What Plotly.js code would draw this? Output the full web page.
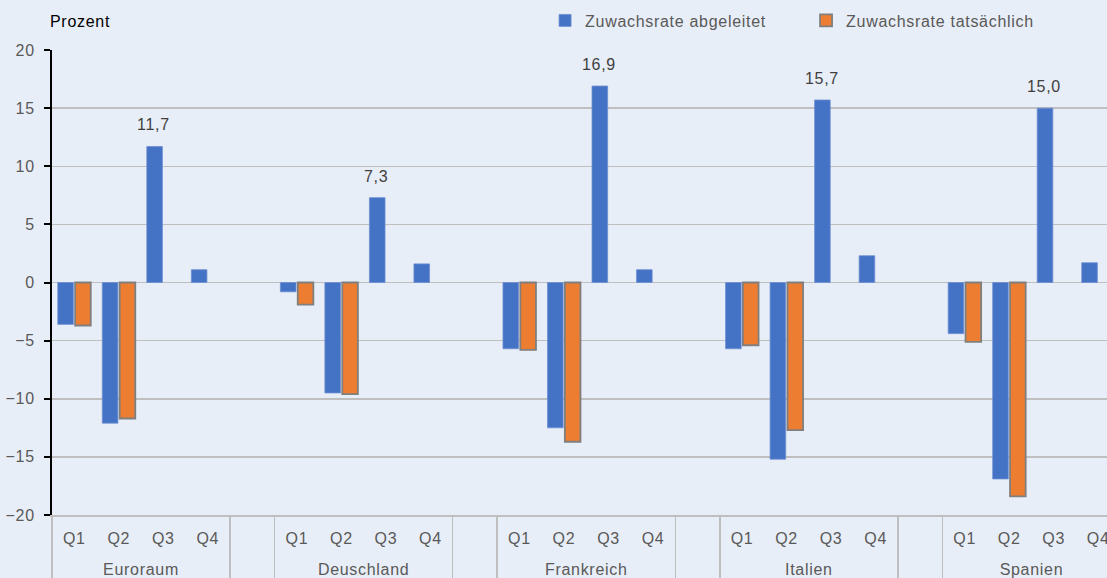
<!DOCTYPE html>
<html>
<head>
<meta charset="utf-8">
<script src="https://cdn.plot.ly/plotly-3.0.1.min.js"></script>
<style>
html, body { margin:0; padding:0; overflow:hidden; background:#E8EEF7; width:1107px; height:578px; }
#chart { width:1165px; height:578px; }
svg text { letter-spacing: 0.7px; }
</style>
</head>
<body>
<div id="chart"></div>
<script>
// Data
const countries = ["Euroraum", "Deuschland", "Frankreich", "Italien", "Spanien"];
const quarters = ["Q1", "Q2", "Q3", "Q4"];
const abgeleitet = {
  "Euroraum":   [-3.6, -12.1, 11.7, 1.1],
  "Deuschland": [-0.8, -9.5, 7.3, 1.6],
  "Frankreich": [-5.7, -12.5, 16.9, 1.1],
  "Italien":    [-5.7, -15.2, 15.7, 2.3],
  "Spanien":    [-4.4, -16.9, 15.0, 1.7]
};
const tatsaechlich = {
  "Euroraum":   [-3.7, -11.7, null, null],
  "Deuschland": [-1.9, -9.6, null, null],
  "Frankreich": [-5.8, -13.7, null, null],
  "Italien":    [-5.4, -12.7, null, null],
  "Spanien":    [-5.1, -18.4, null, null]
};
const labelledQuarter = "Q3";
const seriesNames = ["Zuwachsrate abgeleitet", "Zuwachsrate tatsächlich"];

// Build multicategory x with a blank separator slot after each country
const outer = [], inner = [], yA = [], yT = [];
countries.forEach((c, ci) => {
  quarters.forEach((q, qi) => {
    outer.push(c); inner.push(q + "<br>\u00a0");
    yA.push(abgeleitet[c][qi]); yT.push(tatsaechlich[c][qi]);
  });
  outer.push("\u00a0".repeat(ci + 1)); inner.push("\u00a0");
  yA.push(null); yT.push(null);
});

const FONT = 'Liberation Sans, Arial, sans-serif';
const annotations = [];
outer.forEach((o, i) => {
  if (inner[i].startsWith(labelledQuarter) && yA[i] != null) {
    annotations.push({
      x: i, y: yA[i], xref: 'x', yref: 'y',
      text: yA[i].toFixed(1).replace('.', ','),
      showarrow: false, yanchor: 'bottom', yshift: 11, xshift: -9.5,
      font: {family: FONT, size: 16, color: '#404040'}
    });
  }
});
annotations.push({
  xref: 'paper', yref: 'paper', x: -0.004, y: 1.062, xanchor: 'left', yanchor: 'middle',
  text: 'Prozent', showarrow: false,
  font: {family: FONT, size: 16, color: '#000000'}
});

const traces = [
  {
    type: 'bar', name: seriesNames[0], x: [outer, inner], y: yA,
    marker: {color: '#4472C4', line: {color: '#6E8FD3', width: 0.8}},
    hoverinfo: 'y'
  },
  {
    type: 'bar', name: seriesNames[1], x: [outer, inner], y: yT,
    marker: {color: '#ED7D31', line: {color: '#7F7F7F', width: 1.8}},
    hoverinfo: 'y'
  }
];

const layout = {
  width: 1165, height: 578,
  margin: {l: 52, r: 0, t: 50, b: 63},
  paper_bgcolor: '#E8EEF7', plot_bgcolor: '#E8EEF7',
  font: {family: FONT, size: 16, color: '#595959'},
  barmode: 'group', bargap: 0.22, bargroupgap: 0.1,
  showlegend: true,
  legend: {
    orientation: 'h', x: 0.443, xanchor: 'left', y: 1.1, yanchor: 'top',
    bgcolor: 'rgba(0,0,0,0)', font: {family: FONT, size: 16, color: '#595959'},
    entrywidth: 216, entrywidthmode: 'pixels', traceorder: 'normal'
  },
  xaxis: {
    type: 'multicategory',
    showgrid: false, zeroline: false,
    showline: true, linecolor: '#BFBFBF', linewidth: 1.5,
    showdividers: true, dividercolor: '#BFBFBF', dividerwidth: 1.5,
    ticks: '', ticklabelstandoff: 8,
    tickfont: {family: FONT, size: 16, color: '#595959'}
  },
  yaxis: {
    range: [-20, 20], dtick: 5, tick0: 0,
    showgrid: true, gridcolor: '#BFBFBF', gridwidth: 1.5,
    zeroline: true, zerolinecolor: '#BFBFBF', zerolinewidth: 1.5,
    showline: true, linecolor: '#000000', linewidth: 2,
    ticks: 'outside', ticklen: 6, tickcolor: '#000000', tickwidth: 2,
    ticklabelstandoff: 6,
    tickfont: {family: FONT, size: 16, color: '#595959'}
  },
  annotations: annotations
};

Plotly.newPlot('chart', traces, layout, {displayModeBar: false, staticPlot: true});
</script>
</body>
</html>
